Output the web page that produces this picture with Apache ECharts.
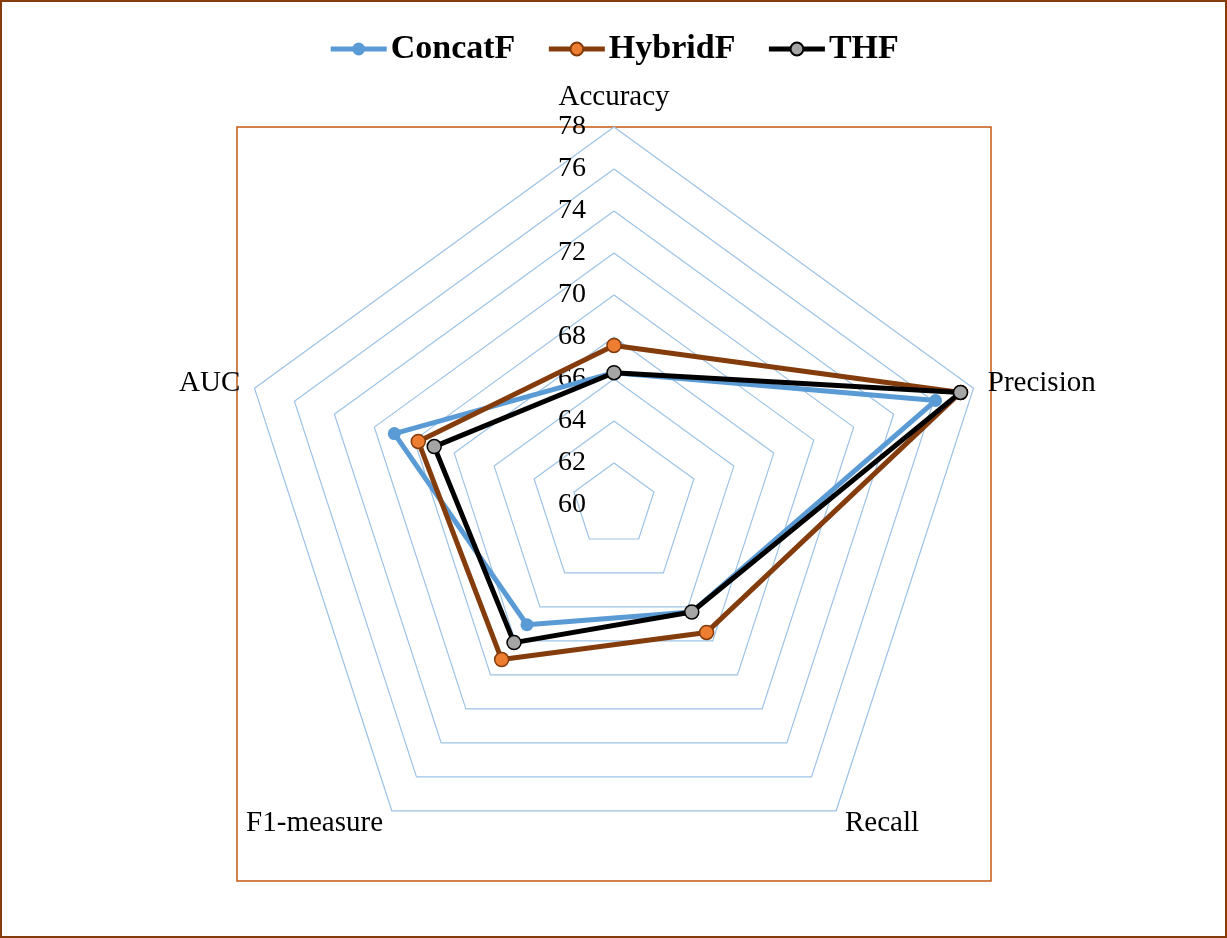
<!DOCTYPE html>
<html>
<head>
<meta charset="utf-8">
<script src="https://cdn.jsdelivr.net/npm/echarts@6/dist/echarts.min.js"></script>
<style>
  html, body { margin: 0; padding: 0; background: #fff; }
  #chart { width: 1227px; height: 938px; }
</style>
</head>
<body>
<div id="chart"></div>
<script>
// Radar axes, listed counter-clockwise from the top
const indicators = ['Accuracy', 'AUC', 'F1-measure', 'Recall', 'Precision'];
const scaleMin = 60;
const scaleMax = 78;
const scaleStep = 2;

// Scores per model, same order as the indicators
const concatF = [66.3, 71.0, 67.05, 66.3, 76.1];
const hybridF = [67.6, 69.8, 69.1, 67.5, 77.35];
const thf     = [66.3, 69.0, 68.1, 66.3, 77.35];

const seriesNames = ['ConcatF', 'HybridF', 'THF'];
const seriesValues = [concatF, hybridF, thf];
const lineColors = ['#5B9BD5', '#843C0C', '#000000'];
const markerFills = ['#5B9BD5', '#ED7D31', '#A5A5A5'];
const markerBorders = ['#5B9BD5', '#843C0C', '#000000'];

const serif = '"Liberation Serif", "Times New Roman", serif';

const chart = echarts.init(document.getElementById('chart'), null, { renderer: 'canvas' });

const indicatorOpts = indicators.map((name, i) => {
  const o = { name: name, min: scaleMin, max: scaleMax };
  if (i === 0) {
    // value ticks are printed along the Accuracy axis only
    o.axisLabel = {
      show: true,
      color: '#000',
      fontFamily: serif,
      fontSize: 28,
      margin: 28
    };
  }
  return o;
});

// Empty line series carry the line-and-marker legend icons
const legendCarriers = seriesNames.map((name, i) => ({
  type: 'line',
  name: name,
  xAxisIndex: 0,
  yAxisIndex: 0,
  data: [],
  symbol: 'circle',
  lineStyle: { color: lineColors[i], width: 5 },
  itemStyle: { color: markerFills[i], borderColor: markerBorders[i], borderWidth: i === 0 ? 0 : 1.5 }
}));

const radarSeries = seriesNames.map((name, i) => ({
  type: 'radar',
  name: name,
  radarIndex: 0,
  symbol: 'circle',
  symbolSize: i === 0 ? 13 : 14,
  lineStyle: { color: lineColors[i], width: 5 },
  itemStyle: { color: markerFills[i], borderColor: markerBorders[i], borderWidth: i === 0 ? 0 : 1.5 },
  z: 2 + i,
  data: [{ name: name, value: seriesValues[i] }]
}));

chart.setOption({
  backgroundColor: '#ffffff',
  animation: false,
  grid: { show: false, left: 0, top: 0, width: 1, height: 1 },
  xAxis: { show: false, type: 'value' },
  yAxis: { show: false, type: 'value' },
  legend: {
    top: 27,
    left: 'center',
    itemWidth: 56,
    itemHeight: 16,
    itemGap: 31,
    data: seriesNames,
    textStyle: { fontFamily: serif, fontSize: 34, fontWeight: 'bold', color: '#000', padding: [0, 0, 0, -1] },
    lineStyle: { width: 5 }
  },
  radar: {
    center: [614, 505],
    radius: 378,
    startAngle: 90,
    shape: 'polygon',
    splitNumber: (scaleMax - scaleMin) / scaleStep,
    indicator: indicatorOpts,
    axisName: { color: '#000', fontFamily: serif, fontSize: 29 },
    nameGap: 15,
    axisLine: { show: false },
    axisTick: { show: false },
    axisLabel: { show: false },
    splitLine: { lineStyle: { color: '#9DC3E6', width: 1.2 } },
    splitArea: { show: false }
  },
  graphic: [
    {
      type: 'rect',
      shape: { x: 1, y: 1, width: 1225, height: 936 },
      style: { fill: null, stroke: '#843C0C', lineWidth: 2 },
      silent: true
    },
    {
      type: 'rect',
      shape: { x: 237, y: 127, width: 754, height: 754 },
      style: { fill: null, stroke: '#C55A11', lineWidth: 1.5 },
      silent: true,
      z: -1
    }
  ],
  series: legendCarriers.concat(radarSeries)
});
</script>
</body>
</html>
